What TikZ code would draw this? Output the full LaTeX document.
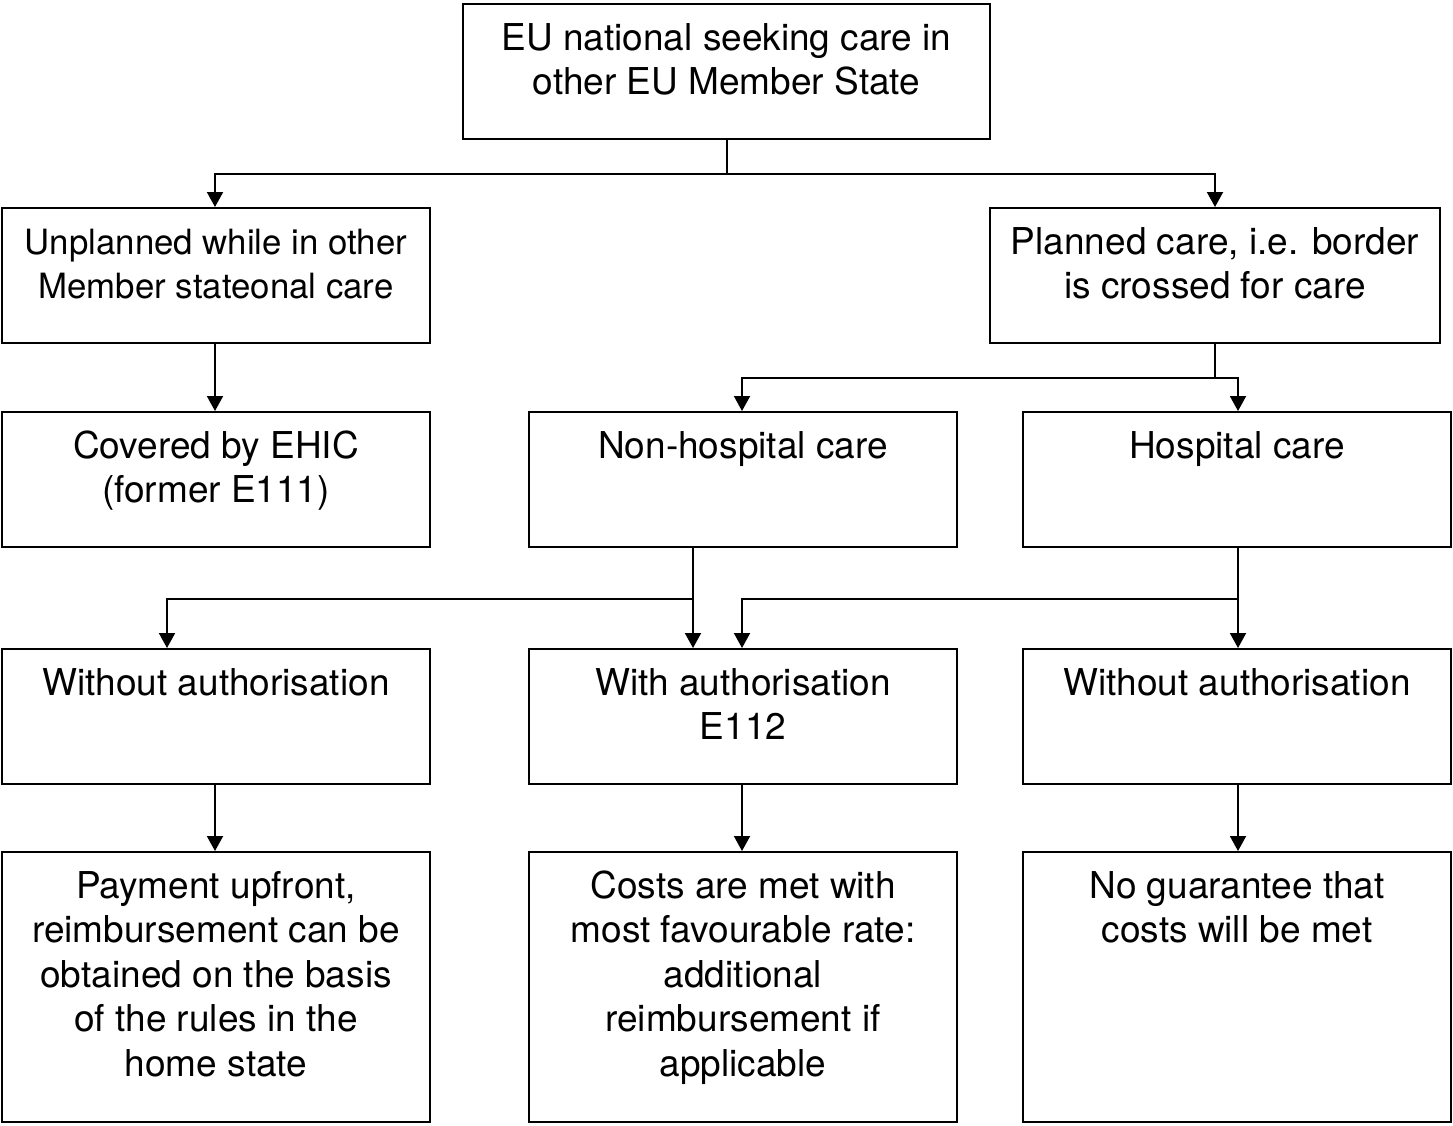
\documentclass[tikz,border=0pt]{standalone}
\usepackage{fontspec}
\setmainfont{TeX Gyre Heros}
\usetikzlibrary{arrows.meta,calc}
\tikzset{
  box/.style={draw=black, line width=2pt, inner sep=0pt, fill=white},
  txt/.style={inner sep=0pt, anchor=base, font=\fontsize{37}{44.5}\selectfont},
  txtsmall/.style={font=\fontsize{34.8}{44.5}\selectfont},
  arr/.style={draw=black, line width=2pt, -{Triangle[width=16pt,length=15pt]}},
  ln/.style={draw=black, line width=2pt},
}
\newcommand{\mybox}[7][]{% [text style] name, left, top, right, bottom, text
  \node[box, minimum width={(#5-#3)*1pt}, minimum height={(#6-#4)*1pt}] (#2) at ({(#3+#5)/2*1pt},{-(#4+#6)/2*1pt}) {};
  \node[txt,#1] (#2t) at ($(#2.north)+(0,-47pt)$) {\begin{tabular}[t]{@{}c@{}}#7\end{tabular}};
}
\begin{document}
\begin{tikzpicture}[x=1pt,y=1pt]
\fill[white] (0,0) rectangle (1453,-1125);
\useasboundingbox (0,0) rectangle (1453,-1125);

\mybox{A}{463}{4}{990}{139}{EU national seeking care in\\other EU Member State}
\mybox[txtsmall]{Bl}{2}{208}{430}{343}{Unplanned while in other\\Member stateonal care}
\mybox{Br}{990}{208}{1440}{343}{Planned care, i.e. border\\is crossed for care}
\mybox{Cl}{2}{412}{430}{547}{Covered by EHIC\\(former E111)}
\mybox{Cm}{529}{412}{957}{547}{Non-hospital care}
\mybox{Cr}{1023}{412}{1451}{547}{Hospital care}
\mybox{Dl}{2}{649}{430}{784}{Without authorisation}
\mybox{Dm}{529}{649}{957}{784}{With authorisation\\E112}
\mybox{Dr}{1023}{649}{1451}{784}{Without authorisation}
\mybox{El}{2}{852}{430}{1122}{Payment upfront,\\reimbursement can be\\obtained on the basis\\of the rules in the\\home state}
\mybox{Em}{529}{852}{957}{1122}{Costs are met with\\most favourable rate:\\additional\\reimbursement if\\applicable}
\mybox{Er}{1023}{852}{1451}{1122}{No guarantee that\\costs will be met}

% level 1 -> 2
\draw[ln] (A.south) -- ++(0,-34) coordinate (j1);
\draw[arr] (j1) -| ([xshift=-1pt]Bl.north);
\draw[arr] (j1) -| (Br.north);
% level 2 -> 3
\draw[arr] ([xshift=-1pt]Bl.south) -- ([xshift=-1pt]Cl.north);
\draw[ln] (Br.south) -- ++(0,-34) coordinate (j2);
\draw[arr] (j2) -| ([xshift=-1pt]Cm.north);
\draw[arr] (j2) -| ([xshift=1pt]Cr.north);
% level 3 -> 4
\draw[arr] ([xshift=-50pt]Cm.south) -- ([xshift=-50pt]Dm.north);
\coordinate (j3) at ($([xshift=-50pt]Cm.south)+(0,-51)$);
\draw[arr] (j3) -| ([xshift=-49pt]Dl.north);
\draw[arr] ([xshift=1pt]Cr.south) -- ([xshift=1pt]Dr.north);
\coordinate (j4) at ($([xshift=1pt]Cr.south)+(0,-51)$);
\draw[arr] (j4) -| ([xshift=-1pt]Dm.north);
% level 4 -> 5
\draw[arr] ([xshift=-1pt]Dl.south) -- ([xshift=-1pt]El.north);
\draw[arr] ([xshift=-1pt]Dm.south) -- ([xshift=-1pt]Em.north);
\draw[arr] ([xshift=1pt]Dr.south) -- ([xshift=1pt]Er.north);
\end{tikzpicture}
\end{document}
